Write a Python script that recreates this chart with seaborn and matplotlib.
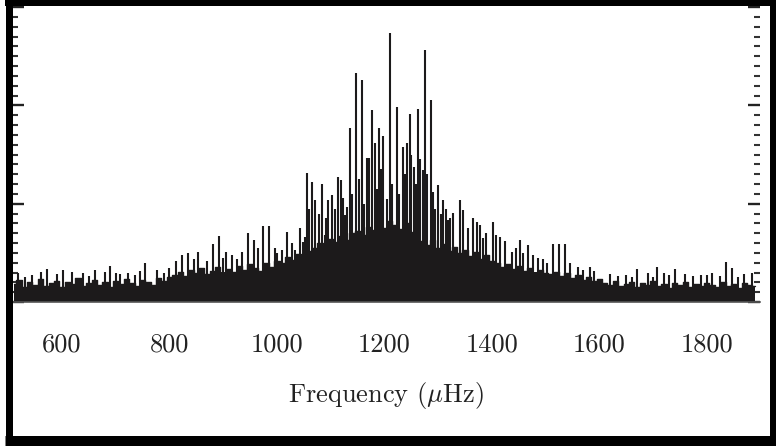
import numpy as np
import matplotlib
matplotlib.use("Agg")
import matplotlib.pyplot as plt
from matplotlib.lines import Line2D
from matplotlib.ticker import MultipleLocator
import seaborn as sns

# ---------------- data ----------------
# dense noise floor, sampled every 10 microHz from 510 to 1890
floor_freq = np.arange(510, 1891, 10)
floor_pow = [
    0.18, 0.22, 0.15, 0.20, 0.17, 0.23, 0.16, 0.19, 0.21, 0.15,
    0.20, 0.18, 0.24, 0.16, 0.19, 0.22, 0.17, 0.20, 0.15, 0.21,
    0.18, 0.23, 0.19, 0.16, 0.22, 0.20, 0.17, 0.24, 0.21, 0.25,
    0.27, 0.31, 0.26, 0.33, 0.29, 0.35, 0.28, 0.32, 0.36, 0.30,
    0.34, 0.31, 0.37, 0.33, 0.39, 0.35, 0.32, 0.40, 0.36, 0.42,
    0.40, 0.46, 0.43, 0.49, 0.45, 0.52,
    0.55, 0.60, 0.56, 0.64, 0.61, 0.67, 0.63, 0.70,
    0.72, 0.68, 0.76, 0.73, 0.80, 0.75, 0.82, 0.78, 0.74, 0.80, 0.71, 0.66,
    0.62, 0.58, 0.63, 0.55, 0.59, 0.52, 0.56,
    0.50, 0.53, 0.47, 0.51, 0.44, 0.48, 0.42,
    0.40, 0.36, 0.39, 0.34, 0.37, 0.32, 0.35, 0.30, 0.33, 0.29,
    0.28, 0.31, 0.26, 0.29, 0.24, 0.27, 0.22, 0.25, 0.21, 0.23,
    0.19, 0.17, 0.21, 0.16, 0.18, 0.20, 0.15, 0.19, 0.17, 0.21,
    0.16, 0.18, 0.14, 0.19, 0.17, 0.20, 0.15, 0.18, 0.16, 0.19,
    0.17, 0.15, 0.20, 0.16, 0.18, 0.14, 0.19, 0.17, 0.16,
]

# individual spikes (frequency in microHz, power)
spike_freq = [
    518, 531, 545, 561, 572, 590, 602, 619, 640, 650, 661, 680, 689, 700,
    708, 723, 735, 745, 754, 777, 790, 800, 812,
    823, 834, 845, 853, 870, 881, 892, 900, 905, 916, 925, 935, 946, 957,
    965, 974, 985, 996, 1000, 1009, 1019, 1028, 1034, 1043, 1048, 1053,
    1056, 1060, 1065, 1071, 1078, 1084, 1089, 1092, 1095, 1102, 1108,
    1114, 1119, 1123, 1126, 1130, 1136, 1140, 1147, 1152, 1158, 1162,
    1167, 1171, 1177, 1182, 1186, 1190, 1194, 1197, 1204, 1210, 1215,
    1223, 1228, 1234, 1238, 1242, 1247, 1250, 1255, 1258, 1262, 1266,
    1272, 1275, 1280, 1287, 1290, 1294, 1300, 1305, 1309, 1314, 1318,
    1322, 1327, 1340, 1346, 1356, 1365, 1372, 1378, 1383, 1390, 1402,
    1408, 1415, 1424, 1437, 1445, 1452, 1458, 1467, 1476, 1485, 1495,
    1502, 1513, 1525, 1536, 1545, 1560, 1570, 1582, 1590, 1620, 1635,
    1650, 1660, 1670, 1690, 1700, 1707, 1720, 1730, 1741, 1760, 1775,
    1790, 1800, 1810, 1825, 1835, 1846, 1858, 1870, 1885,
]
spike_pow = [
    0.30, 0.25, 0.27, 0.31, 0.34, 0.28, 0.33, 0.31, 0.29, 0.26, 0.33, 0.31, 0.37, 0.30,
    0.28, 0.30, 0.27, 0.32, 0.40, 0.33, 0.30, 0.35, 0.42,
    0.48, 0.50, 0.44, 0.51, 0.42, 0.59, 0.67, 0.45, 0.51, 0.48, 0.44, 0.51, 0.70, 0.63,
    0.55, 0.77, 0.77, 0.55, 0.50, 0.53, 0.71, 0.60, 0.53, 0.75, 0.61, 0.66,
    1.31, 0.95, 1.22, 1.04, 0.90, 1.20, 0.68, 0.85, 1.04, 1.09, 0.95,
    1.27, 1.24, 1.06, 0.88, 0.97, 1.77, 1.10, 2.33, 1.25, 2.26, 1.00,
    1.46, 1.46, 1.95, 1.62, 1.15, 1.77, 1.35, 1.69, 1.05, 2.74, 1.20,
    1.98, 1.10, 1.58, 1.30, 1.62, 1.91, 1.50, 1.37, 1.20, 1.96, 1.45,
    1.34, 2.56, 1.30, 2.05, 1.12, 0.95, 1.19, 0.90, 1.04, 0.95, 0.83,
    0.85, 0.91, 1.04, 0.94, 0.75, 0.85, 0.81, 0.78, 0.65, 0.70, 0.81,
    0.68, 0.66, 0.62, 0.51, 0.55, 0.63, 0.50, 0.58, 0.48, 0.45, 0.44,
    0.40, 0.59, 0.59, 0.59, 0.40, 0.36, 0.33, 0.36, 0.32, 0.28, 0.26,
    0.27, 0.25, 0.34, 0.29, 0.25, 0.36, 0.30, 0.27, 0.34, 0.28, 0.26,
    0.27, 0.27, 0.29, 0.26, 0.41, 0.35, 0.25, 0.28, 0.30,
]

xticks = [600, 800, 1000, 1200, 1400, 1600, 1800]
xlabel = r"Frequency ($\mu$Hz)"

# ---------------- style ----------------
sns.set_theme(style="white")
plt.rcParams["font.family"] = ["cmr10", "DejaVu Serif"]
plt.rcParams["mathtext.fontset"] = "cm"
plt.rcParams["axes.formatter.use_mathtext"] = True

W, H = 776, 446
fig = plt.figure(figsize=(W / 100, H / 100), dpi=100)
fig.patch.set_facecolor("white")
ax = fig.add_axes([12 / W, 1 - 302 / H, (760 - 12) / W, (302 - 7) / H])
ax.set_facecolor("white")

ink = "#1c1a1b"
sns.lineplot(x=floor_freq, y=floor_pow, drawstyle="steps-mid", color=ink,
             lw=1.0, ax=ax, legend=False)
ax.fill_between(floor_freq, 0, floor_pow, step="mid", color=ink, lw=0)
ax.vlines(spike_freq, 0, spike_pow, color=ink, lw=1.5)

ax.set_xlim(507, 1899)
ax.set_ylim(0, 3.0)
ax.set_xticks(xticks)
ax.set_xticklabels([str(t) for t in xticks])
ax.yaxis.set_major_locator(MultipleLocator(1.0))
ax.yaxis.set_minor_locator(MultipleLocator(0.1))

for s in ["top", "left", "right"]:
    ax.spines[s].set_visible(False)
ax.spines["bottom"].set_color("#555555")
ax.spines["bottom"].set_linewidth(1.2)

ax.tick_params(axis="x", which="both", length=0, pad=22, labelsize=19,
               labelcolor="#222222")
ax.tick_params(axis="y", which="major", direction="in", length=8.5, width=1.7,
               left=True, right=True, labelleft=False, color="#222222")
ax.tick_params(axis="y", which="minor", direction="in", length=4.5, width=1.5,
               left=True, right=True, color="#333333")
ax.set_xlabel(xlabel, fontsize=19, labelpad=17, color="#222222")
ax.set_ylabel("")

# outer thick frame
def fline(x0, y0, x1, y1, wpx):
    fig.add_artist(Line2D([x0 / W, x1 / W], [1 - y0 / H, 1 - y1 / H],
                          transform=fig.transFigure, color="black",
                          lw=wpx * 0.72, solid_capstyle="butt"))

fline(8.5, 0, 8.5, H, 7)        # left
fline(5, 3, W, 3, 6)            # top
fline(773, 0, 773, H, 6)        # right
fline(5, 440.5, W, 440.5, 11)   # bottom

fig.savefig("out.png", dpi=100)
